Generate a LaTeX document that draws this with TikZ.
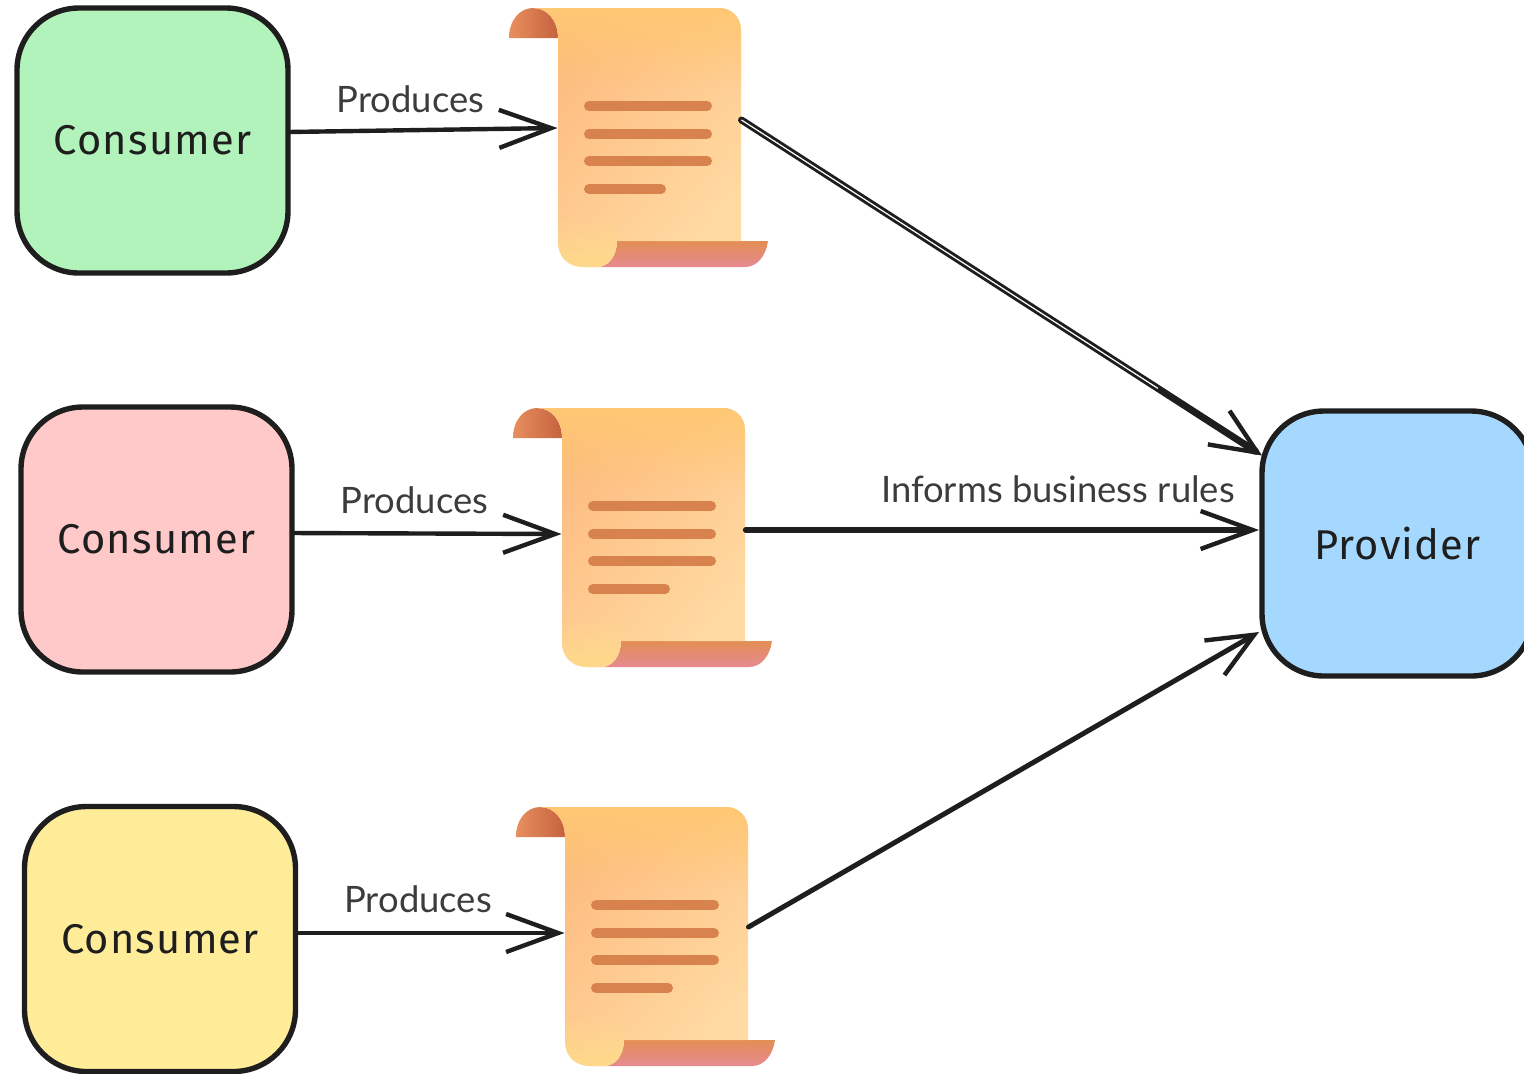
\documentclass[tikz,border=0pt]{standalone}
\usepackage{fontspec}
\setmainfont{Lato}
\newfontfamily\handfont[LetterSpace=3]{Fira Sans}
\usetikzlibrary{arrows.meta,calc,fadings}
\definecolor{ink}{HTML}{1E1E1E}
\definecolor{labelink}{HTML}{3C3C3C}
\definecolor{gGreen}{HTML}{B2F2BB}
\definecolor{gRed}{HTML}{FFC9C9}
\definecolor{gYellow}{HTML}{FFEC99}
\definecolor{gBlue}{HTML}{A5D8FF}
\definecolor{scrollA}{HTML}{FDBA7E}
\definecolor{scrollB}{HTML}{FFDAA2}
\definecolor{scrollTop}{HTML}{FFC873}
\definecolor{curlLight}{HTML}{FFD98A}
\definecolor{stripTop}{HTML}{E28E54}
\definecolor{stripBot}{HTML}{E68A92}
\definecolor{rollA}{HTML}{E88F5E}
\definecolor{rollB}{HTML}{C5623F}
\definecolor{scrollLine}{HTML}{D8834E}
\tikzfading[name=fadeTop,top color=transparent!0,bottom color=transparent!100]
\tikzfading[name=fadeBot,top color=transparent!100,bottom color=transparent!0]
\tikzset{
  actor/.style={draw=ink,line width=2.7pt,rounded corners=31pt,minimum width=135.5pt,minimum height=132.5pt,
    inner sep=0pt,outer sep=0pt,font=\handfont\fontsize{20.8}{24}\selectfont,text=ink},
  scrollbody/.style={inner sep=0pt,outer sep=0pt,minimum width=92pt,minimum height=120pt},
  flow/.style={draw=ink,line width=2.2pt,line cap=round,-{Straight Barb[length=26pt,width=19pt,line width=2.2pt]}},
  flowb/.style={draw=ink,line width=2.5pt,line cap=round,-{Straight Barb[length=23pt,width=20pt,line width=2.2pt]}},
  lbl/.style={inner sep=0pt,text=labelink,font=\fontsize{18.2}{20}\selectfont},
  textline/.style={draw=scrollLine,line width=5pt,line cap=round},
}
\newcommand{\scrollshape}[3]{%
  \begin{scope}[shift={(#2,#3)}]
    \path[left color=rollA,right color=rollB] (509,38) .. controls (509,20) and (520,8) .. (533,8)
      .. controls (547,8) and (558,20) .. (558,38) -- cycle;
    \path[top color=stripTop,bottom color=stripBot]
      (617,241) -- (768,241) .. controls (766,256) and (757,267) .. (745,267) -- (597,267)
      .. controls (609,267) and (617,255) .. (617,241) -- cycle;
    \path[left color=scrollA,right color=scrollB,shading angle=50]
      (533,8) -- (719,8) .. controls (732,8) and (741,18) .. (741,30) -- (741,241) -- (617,241)
      .. controls (617,255) and (609,267) .. (597,267) -- (584,267)
      .. controls (568,267) and (558,257) .. (558,242) -- (558,38)
      .. controls (558,20) and (547,8) .. (533,8) -- cycle;
    \fill[scrollTop,path fading=fadeTop] (533,8) -- (719,8) .. controls (732,8) and (741,18) .. (741,30)
      -- (741,90) -- (558,90) -- (558,38) .. controls (558,20) and (547,8) .. (533,8) -- cycle;
    \fill[curlLight,path fading=fadeBot] (617,241) .. controls (617,255) and (609,267) .. (597,267) -- (584,267)
      .. controls (568,267) and (558,257) .. (558,242) -- (558,215) -- (617,215) -- cycle;
    \draw[textline] (589,106) -- (707,106);
    \draw[textline] (589,134) -- (707,134);
    \draw[textline] (589,161) -- (707,161);
    \draw[textline] (589,189) -- (661,189);
    \node[scrollbody] (#1) at (649.5,128) {};
  \end{scope}}
\begin{document}
\begin{tikzpicture}[x=0.5pt,y=-0.5pt]
\useasboundingbox (0,0) rectangle (1524,1073);
\clip (0,0) rectangle (1524,1073);
\node[actor,fill=gGreen] (c1) at (152.5,140.5) {Consumer};
\node[actor,fill=gRed] (c2) at (156.5,539.5) {Consumer};
\node[actor,fill=gYellow] (c3) at (160,939) {Consumer};
\node[actor,fill=gBlue] (p) at (1397.5,543.5) {Provider};
\scrollshape{s1}{0}{0}
\scrollshape{s2}{4}{400}
\scrollshape{s3}{7}{799}
\draw[flow] ([yshift=4.25pt]c1.east) -- (s1.west);
\draw[flow] ([yshift=3.25pt]c2.east) -- ([yshift=-3pt]s2.west);
\draw[flow] ([yshift=3pt]c3.east) -- ([yshift=-3pt]s3.west);
\draw[flowb,line width=3.5pt] ([yshift=4pt]s1.east) -- ([yshift=44pt]p.west);
\draw[white,line width=0.6pt] ([yshift=4pt]s1.east) -- ($([yshift=4pt]s1.east)!0.8!([yshift=44pt]p.west)$);
\draw[flow,line width=2.6pt] ([yshift=-1pt]s2.east) -- ([xshift=-1.5pt,yshift=6.75pt]p.west);
\draw[flowb] (s3.east) -- ([xshift=-1.5pt,yshift=-44.25pt]p.west);
\node[lbl] (l1) at (410.5,99) {Produces};
\node[lbl] (l2) at (414.5,500) {Produces};
\node[lbl] (l3) at (418,899) {Produces};
\node[lbl] (l4) at (1058,489) {Informs business rules};
\end{tikzpicture}
\end{document}
